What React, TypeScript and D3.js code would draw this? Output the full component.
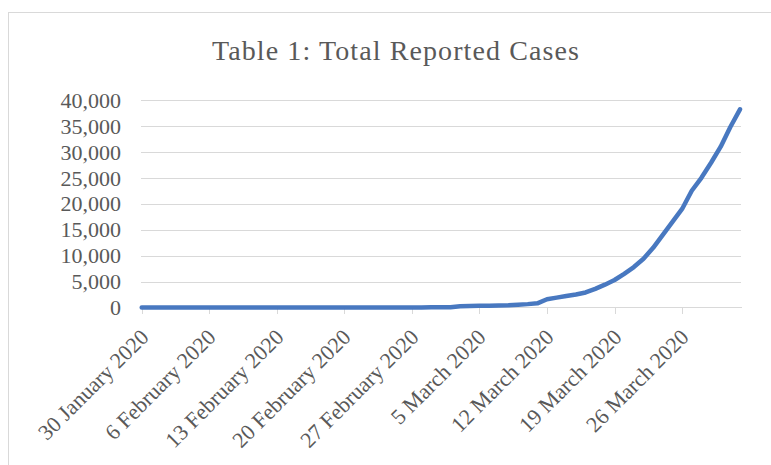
import React from 'react';
import * as d3 from 'd3';

// daily totals, one per day starting 30 January 2020
const startDate = new Date(2020, 0, 30);
const endDate = new Date(2020, 3, 1);
const totalCases = [
  1, 1, 2, 2, 2, 2, 2, 2, 3, 3,
  3, 8, 8, 8, 9, 9, 9, 9, 9, 9,
  9, 9, 9, 9, 13, 13, 13, 16, 20, 23,
  36, 40, 51,
  250, 300, 320, 350, 380, 420, 550, 650, 800,
  1600, 1900, 2200, 2500, 2900, 3600, 4400, 5300, 6500, 7800, 9400,
  11500, 14000, 16500, 19000, 22500, 25000, 27900, 31000, 34800, 38200,
];
const yTicks = [0, 5000, 10000, 15000, 20000, 25000, 30000, 35000, 40000];
const tickDates = [
  new Date(2020, 0, 30), new Date(2020, 1, 6), new Date(2020, 1, 13),
  new Date(2020, 1, 20), new Date(2020, 1, 27), new Date(2020, 2, 5),
  new Date(2020, 2, 12), new Date(2020, 2, 19), new Date(2020, 2, 26),
];
const title = 'Table 1: Total Reported Cases';

const W = 771;
const H = 465;
const FONT = '"Liberation Serif", "Times New Roman", serif';
const TEXT = '#595959';
const GRID = '#d9d9d9';

export default function App() {
  const x = d3.scaleTime().domain([startDate, endDate]).range([141.7, 740]);
  const y = d3.scaleLinear().domain([0, 40000]).range([307.5, 100]);

  const points = totalCases.map((v, i) => ({ date: d3.timeDay.offset(startDate, i), v }));
  const line = d3.line<{ date: Date; v: number }>()
    .x(d => x(d.date))
    .y(d => y(d.v));

  const fmtY = d3.format(',');
  const fmtX = d3.timeFormat('%-d %B %Y');

  return (
    <svg width={W} height={H} style={{ position: 'absolute', left: 0, top: 0, background: '#fff' }}>
      <rect x={8.5} y={12.5} width={900} height={600} fill="#fff" stroke={GRID} />
      <text x={396} y={60} textAnchor="middle" fontFamily={FONT} fontSize={28} letterSpacing={1.1} fill={TEXT}>
        {title}
      </text>

      {yTicks.map(t => (
        <g key={t}>
          {t > 0 && (
            <line x1={141} x2={741} y1={Math.round(y(t)) + 0.5} y2={Math.round(y(t)) + 0.5} stroke={GRID} />
          )}
          <text x={121} y={y(t)} dy="0.35em" textAnchor="end" fontFamily={FONT} fontSize={22} fill={TEXT}>
            {fmtY(t)}
          </text>
        </g>
      ))}

      <line x1={141} x2={742} y1={307.5} y2={307.5} stroke={GRID} />
      {tickDates.map(d => {
        const tx = Math.round(x(d)) + 0.5;
        return (
          <g key={d.getTime()}>
            <line x1={tx} x2={tx} y1={307.5} y2={314} stroke={GRID} />
            <text
              transform={`translate(${tx + 2},333) rotate(-45)`}
              dy="0.35em"
              textAnchor="end"
              fontFamily={FONT}
              fontSize={22}
              fill={TEXT}
            >
              {fmtX(d)}
            </text>
          </g>
        );
      })}

      <path
        d={line(points) || ''}
        fill="none"
        stroke="#4878c0"
        strokeWidth={4.5}
        strokeLinejoin="round"
        strokeLinecap="round"
      />
    </svg>
  );
}
